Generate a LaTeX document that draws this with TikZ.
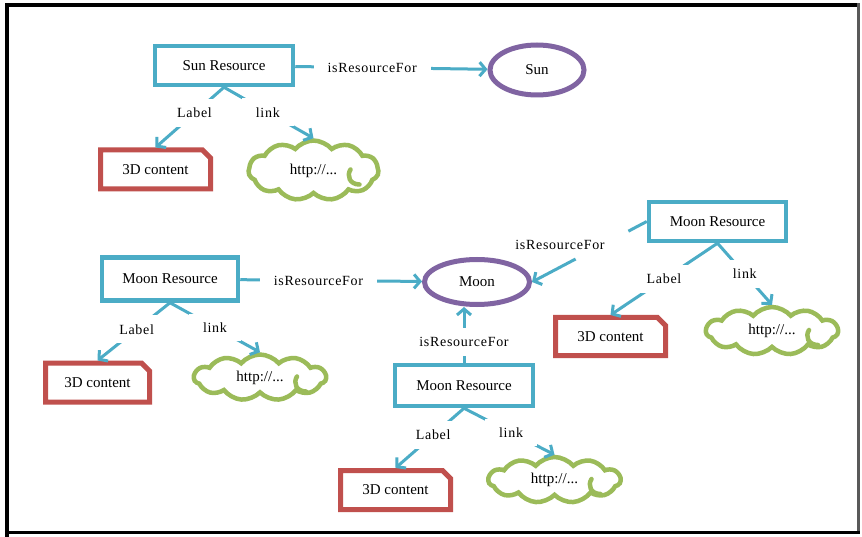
\documentclass[tikz,border=0pt]{standalone}
\usepackage{fontspec}
\setmainfont{Liberation Serif}
\usetikzlibrary{arrows.meta,shapes.geometric,shapes.misc,shapes.symbols,calc}

\definecolor{teal}{HTML}{4BACC6}
\definecolor{brick}{HTML}{C0504D}
\definecolor{leaf}{HTML}{9BBB59}
\definecolor{plum}{HTML}{8064A2}

\tikzset{
  resbox/.style={draw=teal, line width=4.5pt, rectangle, inner sep=0pt,
    minimum width=137pt, font=\fontsize{15}{17}\selectfont},
  contentbox/.style={draw=brick, line width=5pt, chamfered rectangle,
    chamfered rectangle corners=north east, chamfered rectangle xsep=4pt,
    chamfered rectangle ysep=4pt,
    inner sep=0pt, minimum width=110pt, minimum height=39pt,
    font=\fontsize{15}{17}\selectfont},
  linkcloud/.style={draw=leaf, line width=4.5pt, cloud, cloud puffs=11,
    cloud puff arc=100, aspect=2.8, inner sep=0pt,
    minimum width=132pt, minimum height=46pt,
    font=\fontsize{15}{17}\selectfont},
  cloudline/.style={draw=leaf, line width=4.5pt, line cap=round},
  thing/.style={draw=plum, line width=5pt, ellipse, inner sep=0pt,
    font=\fontsize{15}{17}\selectfont},
  conn/.style={draw=teal, line width=3pt},
  tip/.style={-{Straight Barb[length=6pt,width=14pt]}},
  gap/.style={fill=white, inner xsep=14pt, inner ysep=9pt,
    font=\fontsize{14}{16}\selectfont\addfontfeatures{LetterSpace=5}},
  word/.style={font=\fontsize{14}{16}\selectfont\addfontfeatures{LetterSpace=5}},
}

% inner curl near the lower right of a cloud outline
\newcommand{\cloudcurl}[1]{%
  \draw[cloudline] ([shift={(46,14)}]#1.center)
    .. controls ([shift={(36,14)}]#1.center) and ([shift={(33,5)}]#1.center)
    .. ([shift={(37,-1)}]#1.center);
}

\begin{document}
\begin{tikzpicture}[x=1pt,y=-1pt]
\useasboundingbox (0,0) rectangle (862,537);
\fill[white] (0,0) rectangle (862,537);

% frame
\fill[black] (5,3) rectangle (9,537);
\fill[black] (5,3) rectangle (858,7);
\fill[black!65] (857,3) rectangle (860,534);
\fill[black] (5,531) rectangle (860,534);

% ---------------- Sun ----------------
\node[resbox, minimum width=138pt, minimum height=39pt] (sunres) at (224,65.5) {Sun Resource};
\node[thing, minimum width=94pt, minimum height=50pt] (sun) at (537,70) {Sun};
\node[contentbox] (sun3d) at (155.5,169.5) {3D content};
\node[linkcloud, minimum width=130pt, minimum height=60pt] (sunurl) at (313.5,170.5) {http://...};
\cloudcurl{sunurl}

\draw[conn,tip] (sunres) -- node[gap, pos=0.4] {isResourceFor} (sun);
\draw[conn,tip] (sunres.south) -- node[gap, pos=0.43] {Label} (sun3d.north);
\draw[conn,tip] (sunres.south) -- node[gap, pos=0.49] {link} (sunurl.north);

% ---------------- Moon ----------------
\node[thing, minimum width=105pt, minimum height=45pt] (moon) at (477,282) {Moon};

% left resource
\node[resbox, minimum width=136pt, minimum height=43pt] (mresa) at (170,279) {Moon Resource};
\node[contentbox, minimum width=104pt] (mresa3d) at (97.5,382.5) {3D content};
\node[linkcloud] (mresaurl) at (260,377.5) {http://...};
\cloudcurl{mresaurl}

\draw[conn,tip] (mresa) -- node[gap, pos=0.43] {isResourceFor} (moon);
\draw[conn,tip] (mresa.south) -- node[gap, pos=0.46] {Label} (mresa3d.north);
\draw[conn,tip] (mresa.south) -- node[gap, pos=0.5] {link} (mresaurl.north);

% right resource
\node[resbox, minimum height=39pt] (mresb) at (717.5,221.5) {Moon Resource};
\node[contentbox, minimum height=38pt] (mresb3d) at (610.5,336.5) {3D content};
\node[linkcloud, minimum height=48pt] (mresburl) at (772,331) {http://...};
\cloudcurl{mresburl}

\draw[conn] (mresb.west) -- ($(mresb.west)!0.16!(moon.east)$);
\draw[conn,tip] ($(mresb.west)!0.62!(moon.east)$) -- (moon.east);
\node[word] at (560,245) {isResourceFor};
\draw[conn,tip] (mresb.south) -- node[gap, pos=0.5] {Label} (mresb3d.north);
\draw[conn,tip] (mresb.south) -- node[gap, pos=0.5] {link} (mresburl.north);

% lower resource
\node[resbox, minimum width=138pt, minimum height=41pt] (mresc) at (464,385.5) {Moon Resource};
\node[contentbox] (mresc3d) at (395.5,490) {3D content};
\node[linkcloud] (mrescurl) at (554.5,480) {http://...};
\cloudcurl{mrescurl}

\draw[conn,tip] (mresc.north) -- node[gap, pos=0.37] {isResourceFor} (mresc.north |- moon.south);
\draw[conn,tip] (mresc.south) -- node[gap, pos=0.45] {Label} (mresc3d.north);
\draw[conn,tip] (mresc.south) -- node[gap, pos=0.52] {link} (mrescurl.north);
\end{tikzpicture}
\end{document}
